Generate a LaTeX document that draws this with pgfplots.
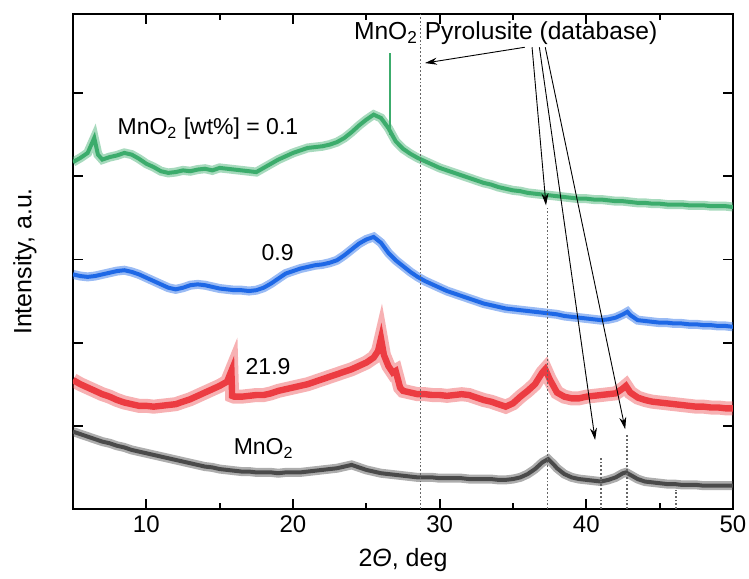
\documentclass[border=0pt]{standalone}
\usepackage{fontspec}
\setmainfont{Liberation Sans}
\usepackage{pgfplots}
\usepackage{pgfplotstable}
\pgfplotsset{compat=1.18}
\usetikzlibrary{arrows.meta}
\definecolor{cgreen}{RGB}{60,172,108}
\definecolor{cblue}{RGB}{30,104,230}
\definecolor{cred}{RGB}{236,60,66}
\definecolor{cgray}{RGB}{74,74,74}

\pgfplotstableread{
x y
5.0 4.17
5.5 4.22
6.0 4.28
6.3 4.40
6.45 4.46
6.7 4.26
7.0 4.20
7.5 4.23
8.0 4.25
8.5 4.28
9.0 4.26
9.5 4.21
10.0 4.15
10.5 4.11
11.0 4.06
11.5 4.04
12.0 4.05
12.5 4.07
13.0 4.06
13.5 4.08
14.0 4.09
14.5 4.07
15.0 4.10
15.5 4.09
16.0 4.08
16.5 4.07
17.0 4.06
17.5 4.05
18.0 4.10
18.5 4.15
19.0 4.20
19.5 4.24
20.0 4.28
20.5 4.31
21.0 4.34
21.5 4.35
22.0 4.36
22.5 4.38
23.0 4.41
23.5 4.46
24.0 4.53
24.5 4.61
25.0 4.68
25.5 4.74
26.0 4.70
26.5 4.58
27.0 4.42
27.5 4.33
28.0 4.27
28.5 4.22
29.0 4.18
29.5 4.14
30.0 4.10
30.5 4.07
31.0 4.04
31.5 4.01
32.0 3.98
32.5 3.95
33.0 3.92
33.5 3.90
34.0 3.87
34.5 3.85
35.0 3.83
35.5 3.82
36.0 3.80
36.5 3.79
37.0 3.78
37.5 3.77
38.0 3.76
38.5 3.75
39.0 3.74
39.5 3.73
40.0 3.73
40.5 3.72
41.0 3.72
41.5 3.71
42.0 3.70
42.5 3.70
43.0 3.69
43.5 3.68
44.0 3.68
44.5 3.67
45.0 3.67
45.5 3.66
46.0 3.66
46.5 3.66
47.0 3.65
47.5 3.65
48.0 3.65
48.5 3.64
49.0 3.64
49.5 3.64
50.0 3.63
}\greendata

\pgfplotstableread{
x y
5.0 2.82
5.5 2.80
6.0 2.79
6.5 2.80
7.0 2.82
7.5 2.84
8.0 2.86
8.5 2.87
9.0 2.85
9.5 2.82
10.0 2.78
10.5 2.74
11.0 2.70
11.5 2.66
12.0 2.64
12.5 2.66
13.0 2.69
13.5 2.70
14.0 2.69
14.5 2.67
15.0 2.65
15.5 2.64
16.0 2.63
16.5 2.63
17.0 2.62
17.5 2.63
18.0 2.66
18.5 2.71
19.0 2.77
19.5 2.83
20.0 2.86
20.5 2.89
21.0 2.91
21.5 2.93
22.0 2.94
22.5 2.96
23.0 2.99
23.5 3.05
24.0 3.12
24.5 3.19
25.0 3.24
25.5 3.27
26.0 3.20
26.5 3.08
27.0 2.99
27.5 2.92
28.0 2.85
28.5 2.79
29.0 2.74
29.5 2.70
30.0 2.66
30.5 2.62
31.0 2.59
31.5 2.56
32.0 2.53
32.5 2.50
33.0 2.47
33.5 2.45
34.0 2.43
34.5 2.41
35.0 2.40
35.5 2.39
36.0 2.38
36.5 2.37
37.0 2.36
37.5 2.35
38.0 2.34
38.5 2.32
39.0 2.31
39.5 2.30
40.0 2.29
40.5 2.28
41.0 2.27
41.5 2.28
42.0 2.30
42.5 2.34
42.8 2.37
43.0 2.33
43.5 2.27
44.0 2.26
44.5 2.25
45.0 2.24
45.5 2.24
46.0 2.23
46.5 2.23
47.0 2.22
47.5 2.22
48.0 2.21
48.5 2.21
49.0 2.20
49.5 2.20
50.0 2.19
}\bluedata

\pgfplotstableread{
x y
5.0 1.55
5.5 1.50
6.0 1.46
6.5 1.42
7.0 1.38
7.5 1.35
8.0 1.31
8.5 1.28
9.0 1.26
9.5 1.24
10.0 1.24
10.5 1.23
11.0 1.24
11.5 1.25
12.0 1.26
12.5 1.29
13.0 1.32
13.5 1.36
14.0 1.40
14.5 1.44
15.0 1.48
15.5 1.53
15.8 1.66
15.85 1.36
16.0 1.35
16.5 1.35
17.0 1.36
17.5 1.37
18.0 1.37
18.5 1.39
19.0 1.42
19.5 1.44
20.0 1.46
20.5 1.48
21.0 1.50
21.5 1.53
22.0 1.56
22.5 1.59
23.0 1.62
23.5 1.65
24.0 1.68
24.5 1.72
25.0 1.76
25.5 1.82
25.8 1.90
26.0 2.05
26.2 1.85
26.5 1.72
26.8 1.64
27.0 1.66
27.3 1.46
27.5 1.42
28.0 1.40
28.5 1.38
29.0 1.38
29.5 1.37
30.0 1.37
30.5 1.36
31.0 1.37
31.5 1.38
32.0 1.37
32.5 1.34
33.0 1.31
33.5 1.29
34.0 1.26
34.5 1.23
35.0 1.27
35.5 1.35
36.0 1.42
36.5 1.50
37.0 1.64
37.2 1.68
37.5 1.56
38.0 1.40
38.5 1.35
39.0 1.33
39.5 1.33
40.0 1.35
40.5 1.36
41.0 1.37
41.5 1.38
42.0 1.39
42.5 1.45
42.7 1.48
43.0 1.40
43.5 1.34
44.0 1.31
44.5 1.29
45.0 1.28
45.5 1.27
46.0 1.26
46.5 1.25
47.0 1.24
47.5 1.23
48.0 1.23
48.5 1.22
49.0 1.22
49.5 1.21
50.0 1.21
}\reddata

\pgfplotstableread{
x y
5.0 0.93
5.5 0.90
6.0 0.87
6.5 0.84
7.0 0.81
7.5 0.79
8.0 0.76
8.5 0.74
9.0 0.71
9.5 0.69
10.0 0.67
10.5 0.65
11.0 0.63
11.5 0.61
12.0 0.59
12.5 0.57
13.0 0.55
13.5 0.53
14.0 0.51
14.5 0.50
15.0 0.48
15.5 0.47
16.0 0.46
16.5 0.45
17.0 0.45
17.5 0.44
18.0 0.44
18.5 0.44
19.0 0.43
19.5 0.44
20.0 0.44
20.5 0.44
21.0 0.45
21.5 0.46
22.0 0.47
22.5 0.48
23.0 0.49
23.5 0.51
24.0 0.53
24.5 0.50
25.0 0.47
25.5 0.45
26.0 0.43
26.5 0.42
27.0 0.41
27.5 0.40
28.0 0.39
28.5 0.38
29.0 0.38
29.5 0.38
30.0 0.37
30.5 0.37
31.0 0.37
31.5 0.37
32.0 0.36
32.5 0.36
33.0 0.36
33.5 0.36
34.0 0.35
34.5 0.35
35.0 0.36
35.5 0.38
36.0 0.42
36.5 0.48
37.0 0.56
37.4 0.60
37.8 0.53
38.0 0.49
38.5 0.42
39.0 0.38
39.5 0.36
40.0 0.35
40.5 0.34
41.0 0.33
41.5 0.35
42.0 0.38
42.5 0.43
42.7 0.44
43.0 0.41
43.5 0.36
44.0 0.33
44.5 0.32
45.0 0.31
45.5 0.30
46.0 0.30
46.5 0.29
47.0 0.29
47.5 0.29
48.0 0.28
48.5 0.28
49.0 0.28
49.5 0.28
50.0 0.28
}\graydata

\pgfplotstableread{
x y
28.7 5.95
37.35 3.62
41.0 0.63
42.8 0.91
46.1 0.23
}\sticks

\begin{document}
\begin{tikzpicture}
\begin{axis}[
  name=ax,
  scale only axis,
  width=330pt, height=247.5pt,
  xmin=5, xmax=50, ymin=0, ymax=5.95,
  xtick={10,20,30,40,50},
  minor xtick={15,25,35,45},
  ytick={1,2,3,4,5},
  yticklabels={},
  tick align=inside,
  major tick length=5pt,
  minor tick length=3pt,
  axis line style={line width=0.9pt},
  every tick/.style={black, line width=0.9pt},
  tick label style={font=\fontsize{12}{14}\selectfont},
  /pgf/number format/assume math mode=true,
  xlabel={2{\itshape Θ}, deg},
  ylabel={Intensity, a.u.},
  label style={font=\fontsize{12.5}{15}\selectfont},
  xlabel style={at={(axis description cs:0.5,-0.103)}, anchor=center},
  ylabel style={at={(axis description cs:-0.073,0.5)}, anchor=center, rotate=0},
  clip=true,
]
% noisy-band look: translucent wide underlayer + solid line
\addplot[cgreen, line width=4.5pt, opacity=0.45] table {\greendata};
\addplot[cgreen, line width=2.0pt] table {\greendata};
\addplot[cgreen, line width=0.8pt] coordinates {(26.62,4.50) (26.62,5.48)};
\addplot[cblue, line width=4.5pt, opacity=0.45] table {\bluedata};
\addplot[cblue, line width=2.0pt] table {\bluedata};
\addplot[cred, line width=7pt, opacity=0.4] table {\reddata};
\addplot[cred, line width=3.2pt] table {\reddata};
\addplot[cgray, line width=4.5pt, opacity=0.45] table {\graydata};
\addplot[cgray, line width=2.0pt] table {\graydata};
% database sticks
\addplot[ycomb, black!60, densely dotted, line width=0.9pt, mark=none] table {\sticks};
% annotations
\node[font=\fontsize{12.3}{14}\selectfont] at (axis cs:34.5,5.72) {MnO\textsubscript{2} Pyrolusite (database)};
\draw[-{Stealth[length=6pt,width=3.5pt]}, line width=0.45pt] (axis cs:35.8,5.55) -- (axis cs:29.0,5.36);
\draw[-{Stealth[length=6pt,width=3.5pt]}, line width=0.45pt] (axis cs:36.3,5.55) -- (axis cs:37.25,3.65);
\draw[-{Stealth[length=6pt,width=3.5pt]}, line width=0.45pt] (axis cs:36.8,5.55) -- (axis cs:40.6,0.83);
\draw[-{Stealth[length=6pt,width=3.5pt]}, line width=0.45pt] (axis cs:37.2,5.55) -- (axis cs:42.65,0.96);
\node[font=\fontsize{11.5}{14}\selectfont] at (axis cs:14.2,4.57) {MnO\textsubscript{2} [wt\%] = 0.1};
\node[font=\fontsize{11.5}{14}\selectfont] at (axis cs:18.95,3.08) {0.9};
\node[font=\fontsize{11.5}{14}\selectfont] at (axis cs:18.3,1.71) {21.9};
\node[font=\fontsize{11.5}{14}\selectfont] at (axis cs:18.0,0.73) {MnO\textsubscript{2}};
\end{axis}
\pgfresetboundingbox
\path[use as bounding box] ([shift={(-36.5pt,-34.5pt)}]ax.south west) rectangle ([shift={(8pt,7pt)}]ax.north east);
\end{tikzpicture}
\end{document}
